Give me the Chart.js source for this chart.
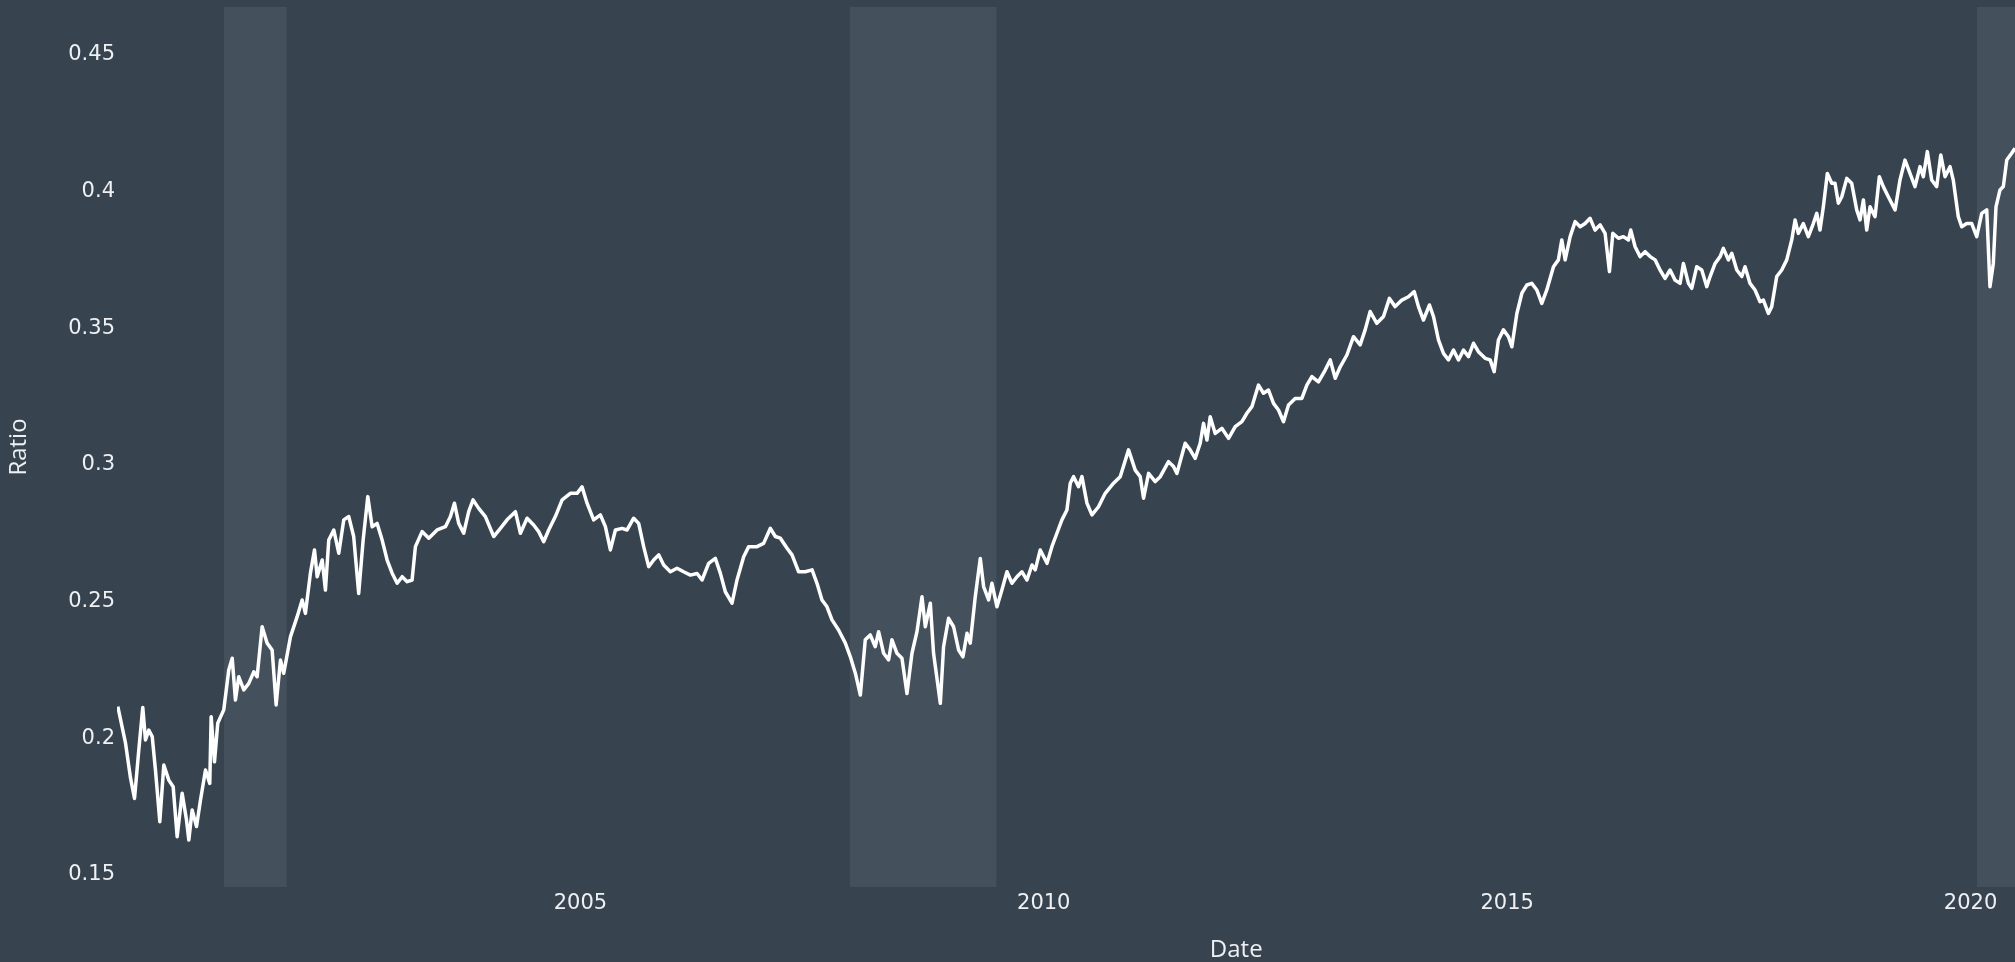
<!DOCTYPE html>
<html>
<head>
<meta charset="utf-8">
<title>Ratio</title>
<script src="https://cdn.jsdelivr.net/npm/chart.js@4.4.1/dist/chart.umd.min.js"></script>
<style>
  html, body { margin: 0; padding: 0; background: #37444f; overflow: hidden; }
  #wrap { position: relative; width: 2015px; height: 962px; }
</style>
</head>
<body>
<div id="wrap"><canvas id="chart"></canvas></div>
<script>
// Observation dates as decimal years
const dates = [
  2000.009,2000.092,2000.146,2000.189,2000.235,2000.278,2000.307,2000.343,2000.380,2000.415,
  2000.462,2000.505,2000.559,2000.606,2000.649,2000.703,2000.750,2000.775,2000.811,2000.858,
  2000.901,2000.955,2001.001,2001.016,2001.052,2001.087,2001.152,2001.206,2001.243,2001.278,
  2001.314,2001.368,2001.422,2001.476,2001.512,2001.566,2001.620,2001.674,2001.717,2001.764,
  2001.799,2001.872,2001.944,2001.998,2002.033,2002.087,2002.131,2002.160,2002.214,2002.249,
  2002.285,2002.339,2002.393,2002.447,2002.501,2002.554,2002.608,2002.656,2002.706,2002.753,
  2002.807,2002.861,2002.915,2002.969,2003.023,2003.077,2003.131,2003.184,2003.220,2003.292,
  2003.364,
  2003.454,2003.544,2003.598,2003.641,2003.687,2003.741,2003.795,2003.842,2003.903,2003.975,
  2004.065,2004.137,2004.209,2004.299,2004.353,2004.425,2004.496,2004.550,2004.604,2004.658,
  2004.730,2004.803,2004.892,2004.964,2005.018,2005.072,2005.143,2005.216,2005.270,2005.324,
  2005.378,2005.450,2005.504,2005.575,2005.629,2005.683,2005.737,2005.791,2005.845,2005.899,
  2005.971,2006.043,2006.114,2006.187,2006.259,2006.313,2006.384,2006.456,2006.510,2006.564,
  2006.636,2006.690,2006.762,2006.816,
  2006.906,2006.977,2007.050,2007.104,2007.158,2007.230,2007.284,2007.355,2007.427,2007.500,
  2007.553,2007.607,2007.661,2007.715,2007.786,2007.859,2007.913,2007.967,2008.021,2008.074,
  2008.128,2008.182,2008.218,2008.272,2008.326,2008.362,2008.416,2008.470,2008.524,2008.578,
  2008.632,2008.686,2008.722,2008.776,2008.811,2008.884,2008.919,2008.973,2009.027,2009.081,
  2009.128,2009.172,2009.207,2009.261,2009.315,2009.351,2009.405,2009.441,2009.495,2009.549,
  2009.603,2009.657,2009.711,2009.765,2009.819,2009.873,2009.908,2009.962,2010.035,2010.088,
  2010.142,2010.196,2010.250,
  2010.286,2010.322,2010.375,2010.412,2010.466,2010.520,2010.591,2010.663,2010.753,2010.825,
  2010.915,2010.987,2011.041,2011.077,2011.131,2011.203,2011.257,2011.346,2011.400,2011.437,
  2011.526,2011.580,2011.634,2011.688,2011.724,2011.761,2011.796,2011.850,2011.922,2011.994,
  2012.066,2012.138,2012.192,2012.246,2012.317,2012.371,2012.425,2012.479,2012.533,2012.587,
  2012.641,2012.713,2012.785,2012.839,2012.893,2012.964,2013.037,2013.091,2013.145,2013.199,
  2013.271,2013.342,2013.414,2013.468,2013.522,2013.594,2013.666,2013.730,
  2013.792,2013.864,2013.935,2013.997,2014.043,2014.097,2014.162,2014.205,2014.259,2014.313,
  2014.367,2014.421,2014.475,2014.529,2014.583,2014.637,2014.690,2014.763,2014.817,2014.860,
  2014.906,2014.960,2015.014,2015.051,2015.105,2015.159,2015.212,2015.266,2015.320,2015.374,
  2015.428,2015.500,2015.553,2015.590,2015.626,2015.680,2015.734,2015.788,2015.841,2015.895,
  2015.949,2016.003,2016.057,2016.104,2016.140,2016.201,2016.255,2016.309,2016.334,2016.381,
  2016.435,2016.489,2016.543,2016.597,2016.650,2016.704,2016.758,2016.812,2016.866,2016.902,
  2016.956,2016.992,2017.046,2017.100,2017.154,
  2017.190,2017.244,2017.298,2017.333,2017.387,2017.424,2017.478,2017.532,2017.567,2017.621,
  2017.675,2017.729,2017.765,2017.819,2017.855,2017.909,2017.963,2018.017,2018.071,2018.107,
  2018.142,2018.196,2018.250,2018.304,2018.341,2018.376,2018.412,2018.455,2018.503,2018.538,
  2018.574,2018.611,2018.665,2018.718,2018.772,2018.808,2018.844,2018.880,2018.916,2018.970,
  2019.016,2019.059,2019.113,2019.186,2019.239,2019.293,2019.347,2019.401,2019.455,2019.491,
  2019.534,2019.581,2019.635,2019.679,2019.725,2019.779,2019.814,2019.868,2019.905,2019.959,
  2020.013,2020.067,2020.121,2020.175,2020.210,2020.246,2020.275,2020.318,2020.354,2020.391,
  2020.444,2020.480
];

// Ratio at each date
const ratio = [
  0.2116,0.1982,0.1854,0.1780,0.1957,0.2113,0.1994,0.2030,0.2006,0.1884,
  0.1695,0.1902,0.1847,0.1823,0.1640,0.1799,0.1701,0.1628,0.1738,0.1677,
  0.1774,0.1884,0.1835,0.2079,0.1914,0.2055,0.2104,0.2250,0.2293,0.2140,
  0.2225,0.2177,0.2201,0.2243,0.2225,0.2408,0.2348,0.2323,0.2122,0.2286,
  0.2238,0.2372,0.2445,0.2506,0.2457,0.2604,0.2689,0.2591,0.2652,0.2542,
  0.2725,0.2762,0.2677,0.2799,0.2811,0.2738,0.2530,0.2725,0.2884,0.2774,
  0.2786,0.2725,0.2652,0.2604,0.2567,0.2591,0.2573,0.2579,0.2701,0.2756,
  0.2732,
  0.2762,0.2774,0.2811,0.2860,0.2786,0.2750,0.2829,0.2872,0.2841,0.2811,
  0.2738,0.2768,0.2799,0.2829,0.2750,0.2805,0.2780,0.2756,0.2719,0.2762,
  0.2811,0.2872,0.2896,0.2896,0.2920,0.2860,0.2799,0.2817,0.2774,0.2689,
  0.2762,0.2768,0.2762,0.2805,0.2786,0.2701,0.2628,0.2652,0.2671,0.2634,
  0.2609,0.2622,0.2609,0.2597,0.2603,0.2579,0.2640,0.2658,0.2604,0.2536,
  0.2494,0.2579,0.2664,0.2701,
  0.2701,0.2713,0.2768,0.2738,0.2732,0.2695,0.2671,0.2609,0.2609,0.2616,
  0.2567,0.2506,0.2481,0.2433,0.2396,0.2348,0.2298,0.2238,0.2158,0.2360,
  0.2378,0.2335,0.2390,0.2311,0.2287,0.2360,0.2311,0.2293,0.2164,0.2311,
  0.2390,0.2518,0.2408,0.2494,0.2311,0.2128,0.2335,0.2439,0.2408,0.2323,
  0.2298,0.2384,0.2348,0.2518,0.2658,0.2555,0.2506,0.2567,0.2481,0.2543,
  0.2609,0.2567,0.2591,0.2609,0.2579,0.2634,0.2616,0.2689,0.2640,0.2701,
  0.2750,0.2799,0.2835,
  0.2933,0.2957,0.2920,0.2957,0.2860,0.2817,0.2847,0.2896,0.2933,0.2957,
  0.3055,0.2981,0.2957,0.2878,0.2969,0.2939,0.2957,0.3012,0.2994,0.2969,
  0.3079,0.3055,0.3024,0.3079,0.3152,0.3091,0.3176,0.3115,0.3134,0.3097,
  0.3140,0.3158,0.3189,0.3213,0.3292,0.3262,0.3274,0.3225,0.3201,0.3158,
  0.3219,0.3243,0.3243,0.3292,0.3323,0.3304,0.3347,0.3384,0.3317,0.3359,
  0.3402,0.3469,0.3439,0.3494,0.3561,0.3518,0.3543,0.3609,
  0.3579,0.3603,0.3615,0.3634,0.3579,0.3530,0.3585,0.3543,0.3457,0.3408,
  0.3384,0.3420,0.3384,0.3420,0.3396,0.3445,0.3414,0.3390,0.3384,0.3341,
  0.3457,0.3494,0.3469,0.3432,0.3554,0.3628,0.3658,0.3664,0.3640,0.3591,
  0.3640,0.3725,0.3750,0.3823,0.3750,0.3835,0.3890,0.3871,0.3883,0.3902,
  0.3859,0.3878,0.3847,0.3707,0.3847,0.3829,0.3835,0.3823,0.3859,0.3798,
  0.3762,0.3780,0.3762,0.3750,0.3713,0.3682,0.3713,0.3676,0.3664,0.3737,
  0.3664,0.3646,0.3725,0.3713,0.3652,
  0.3689,0.3737,0.3762,0.3792,0.3750,0.3774,0.3713,0.3689,0.3725,0.3664,
  0.3640,0.3597,0.3603,0.3554,0.3579,0.3689,0.3713,0.3750,0.3823,0.3896,
  0.3847,0.3883,0.3835,0.3883,0.3920,0.3859,0.3944,0.4066,0.4030,0.4030,
  0.3957,0.3981,0.4048,0.4030,0.3933,0.3896,0.3969,0.3859,0.3944,0.3908,
  0.4054,0.4018,0.3981,0.3933,0.4042,0.4115,0.4066,0.4018,0.4091,0.4054,
  0.4146,0.4042,0.4018,0.4134,0.4054,0.4091,0.4042,0.3908,0.3871,0.3883,
  0.3883,0.3835,0.3920,0.3933,0.3652,0.3737,0.3944,0.4006,0.4018,0.4115,
  0.4140,0.4158
];

// Axis ticks
const yTicks = [0.15, 0.2, 0.25, 0.3, 0.35, 0.4, 0.45];
const xTicks = [2005, 2010, 2015, 2020];

// Recession periods (decimal years)
const recessionStart = [2001.155, 2007.908, 2020.07];
const recessionEnd   = [2001.830, 2009.490, 2020.48];

const xTitle = 'Date';
const yTitle = 'Ratio';

const BAND = '#44505b';
const TEXT = '#eef0f3';
const TICK_FONT = { family: '"DejaVu Sans", Verdana, sans-serif', size: 21 };
const TITLE_FONT = '"Open Sans", sans-serif';

// Shaded recession periods behind the line
const recessionBands = {
  id: 'recessionBands',
  beforeDatasetsDraw(chart) {
    const { ctx, chartArea, scales: { x } } = chart;
    ctx.save();
    ctx.fillStyle = BAND;
    recessionStart.forEach((s, i) => {
      const x0 = Math.max(x.getPixelForValue(s), chartArea.left);
      const x1 = Math.min(x.getPixelForValue(recessionEnd[i]), chartArea.right);
      ctx.fillRect(x0, chartArea.top, x1 - x0, chartArea.bottom - chartArea.top);
    });
    ctx.restore();
  }
};

// Horizontal axis title, placed right of the visible centre
const dateTitle = {
  id: 'dateTitle',
  afterDraw(chart) {
    const { ctx, chartArea } = chart;
    ctx.save();
    ctx.font = '24px ' + TITLE_FONT;
    ctx.fillStyle = TEXT;
    ctx.textAlign = 'center';
    ctx.textBaseline = 'middle';
    ctx.fillText(xTitle, chartArea.left + chartArea.width * 0.5897, chart.height - 12);
    ctx.restore();
  }
};

new Chart(document.getElementById('chart'), {
  type: 'line',
  data: {
    datasets: [{
      data: dates.map((d, i) => ({ x: d, y: ratio[i] })),
      borderColor: '#ffffff',
      borderWidth: 3.5,
      borderJoinStyle: 'round',
      pointRadius: 0,
      tension: 0,
      fill: false
    }]
  },
  options: {
    responsive: true,
    maintainAspectRatio: false,
    animation: false,
    layout: { padding: { top: 7, right: 0, bottom: 0, left: 0 } },
    plugins: { legend: { display: false }, tooltip: { enabled: false } },
    scales: {
      x: {
        type: 'linear',
        min: 2000,
        max: 2020.48,
        grid: { display: false, drawTicks: false },
        border: { display: false },
        afterBuildTicks: s => { s.ticks = xTicks.map(v => ({ value: v })); },
        afterFit: s => { s.height = 75; s.paddingLeft = 0; s.paddingRight = 0; },
        ticks: {
          color: TEXT, font: TICK_FONT, padding: 4, maxRotation: 0, autoSkip: false,
          callback: v => String(v)
        }
      },
      y: {
        min: 0.1456,
        max: 0.4675,
        grid: { display: false, drawTicks: false },
        border: { display: false },
        afterBuildTicks: s => { s.ticks = yTicks.map(v => ({ value: v })); },
        afterFit: s => { s.width = 117; s.paddingTop = 0; s.paddingBottom = 0; },
        title: {
          display: true, text: yTitle, color: TEXT,
          font: { family: TITLE_FONT, size: 24 }, padding: { top: 5, bottom: 0 }
        },
        ticks: {
          color: TEXT, font: TICK_FONT, padding: 2, autoSkip: false,
          callback: v => String(+v.toFixed(2))
        }
      }
    }
  },
  plugins: [recessionBands, dateTitle]
});
</script>
</body>
</html>
